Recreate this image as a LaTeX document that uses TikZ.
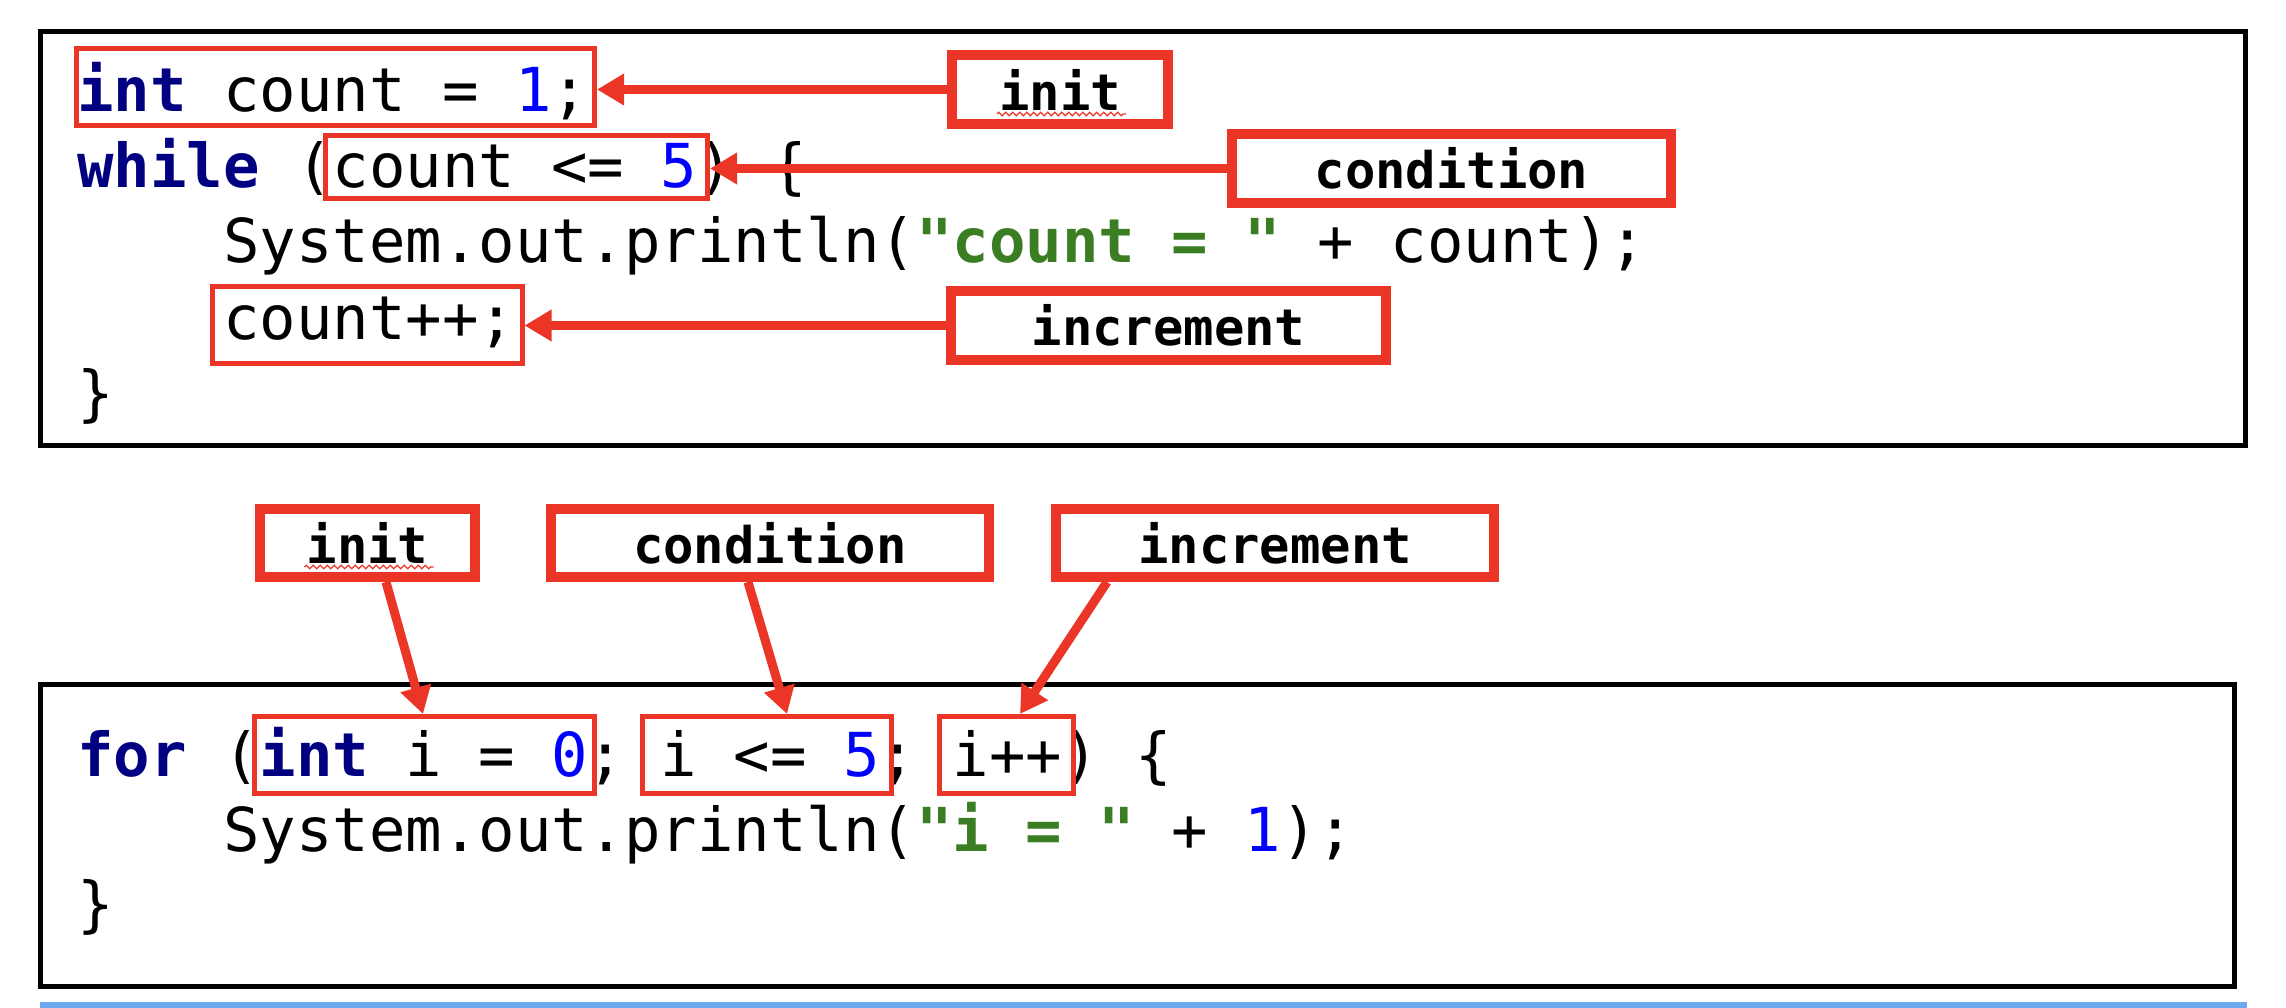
\documentclass[tikz,border=0pt]{standalone}
\usepackage{fontspec}
\usetikzlibrary{arrows.meta,calc,decorations.pathmorphing}
\newfontfamily\codefont{DejaVu Sans Mono}
\definecolor{hl}{RGB}{234,53,39}
\definecolor{kw}{RGB}{0,0,128}
\definecolor{num}{RGB}{0,0,255}
\definecolor{strc}{RGB}{58,125,34}
\definecolor{barc}{RGB}{106,168,240}
\begin{document}
\begin{tikzpicture}[x=1pt,y=-1pt,
  frame/.style={draw=black,line width=5pt,inner sep=0pt},
  codeline/.style={font=\codefont\fontsize{60.6pt}{70pt}\selectfont\frenchspacing,inner sep=0pt,anchor=base west},
  hlbox/.style={draw=hl,line width=5pt,inner sep=0pt},
  lab/.style={draw=hl,line width=10pt,inner sep=0pt,minimum height=69pt,
    font=\codefont\bfseries\fontsize{50.5pt}{60pt}\selectfont},
  arr/.style={draw=hl,line width=9pt,-{Triangle[length=27pt,width=30pt]}},
  squiggle/.style={draw=hl,line width=1.3pt,decorate,decoration={zigzag,amplitude=1.8pt,segment length=7pt}}]
\useasboundingbox (0,0) rectangle (2286,1008);

% frames
\node[frame,minimum width=2205pt,minimum height=414pt] (F1) at (1143,238.5) {};
\node[frame,minimum width=2193.5pt,minimum height=302pt] (F2) at (1137.25,835.5) {};
\fill[barc] (40,1002) rectangle (2247,1008);

% top code
\node[codeline] (t1) at (77,112) {\textcolor{kw}{\bfseries int} count = \textcolor{num}{1};};
\node[codeline] (t2) at (77,187.5) {\textcolor{kw}{\bfseries while} (count <= \textcolor{num}{5}) \{};
\node[codeline] (t3) at (223,263) {System.out.println(\textcolor{strc}{\bfseries "count = "} + count);};
\node[codeline] (t4) at (223,339) {count++;};
\node[codeline] (t5) at (77,414.5) {\}};

% top highlight boxes
\node[hlbox,minimum width=518pt,minimum height=77pt] (C1) at (335.5,87) {};
\node[hlbox,minimum width=382pt,minimum height=63pt] (C2) at (516.5,167) {};
\node[hlbox,minimum width=309.5pt,minimum height=77pt] (C3) at (367.25,325) {};

% top labels
\node[lab,minimum width=216pt] (L1) at (1060,89.5) {init};
\node[lab,minimum width=439pt] (L2) at (1451.5,168.5) {condition};
\node[lab,minimum width=435pt] (L3) at (1168.5,325.5) {increment};
\draw[squiggle] ($(L1.center)+(-63,24.5)$) -- ($(L1.center)+(66,24.5)$);

\draw[arr] (L1.west) -- (L1.west -| C1.east);
\draw[arr] (L2.west) -- (L2.west -| C2.east);
\draw[arr] (L3.west) -- (L3.west -| C3.east);

% bottom code
\node[codeline] (u1) at (77,776) {\textcolor{kw}{\bfseries for} (\textcolor{kw}{\bfseries int} i = \textcolor{num}{0}; i <= \textcolor{num}{5}; i++) \{};
\node[codeline] (u2) at (223,851) {System.out.println(\textcolor{strc}{\bfseries "i = "} + \textcolor{num}{1});};
\node[codeline] (u3) at (77,925) {\}};

% bottom highlight boxes
\node[hlbox,minimum width=340pt,minimum height=77pt] (D1) at (424.5,755) {};
\node[hlbox,minimum width=249pt,minimum height=77pt] (D2) at (767,755) {};
\node[hlbox,minimum width=134pt,minimum height=77pt] (D3) at (1006.5,755) {};

% bottom labels
\node[lab,minimum width=215pt,minimum height=68pt] (B1) at (367.5,543) {init};
\node[lab,minimum width=438pt,minimum height=68pt] (B2) at (770,543) {condition};
\node[lab,minimum width=438pt,minimum height=68pt] (B3) at (1275,543) {increment};
\draw[squiggle] ($(B1.center)+(-63,24)$) -- ($(B1.center)+(66,24)$);

\draw[arr] ($(B1.south)+(18.5,0)$) -- ($(D1.north)+(-1.5,0)$);
\draw[arr] ($(B2.south)+(-22,0)$) -- ($(D2.north)+(20,0)$);
\draw[arr] ($(B3.south)+(-168,0)$) -- ($(D3.north)+(13.5,0)$);
\end{tikzpicture}
\end{document}
